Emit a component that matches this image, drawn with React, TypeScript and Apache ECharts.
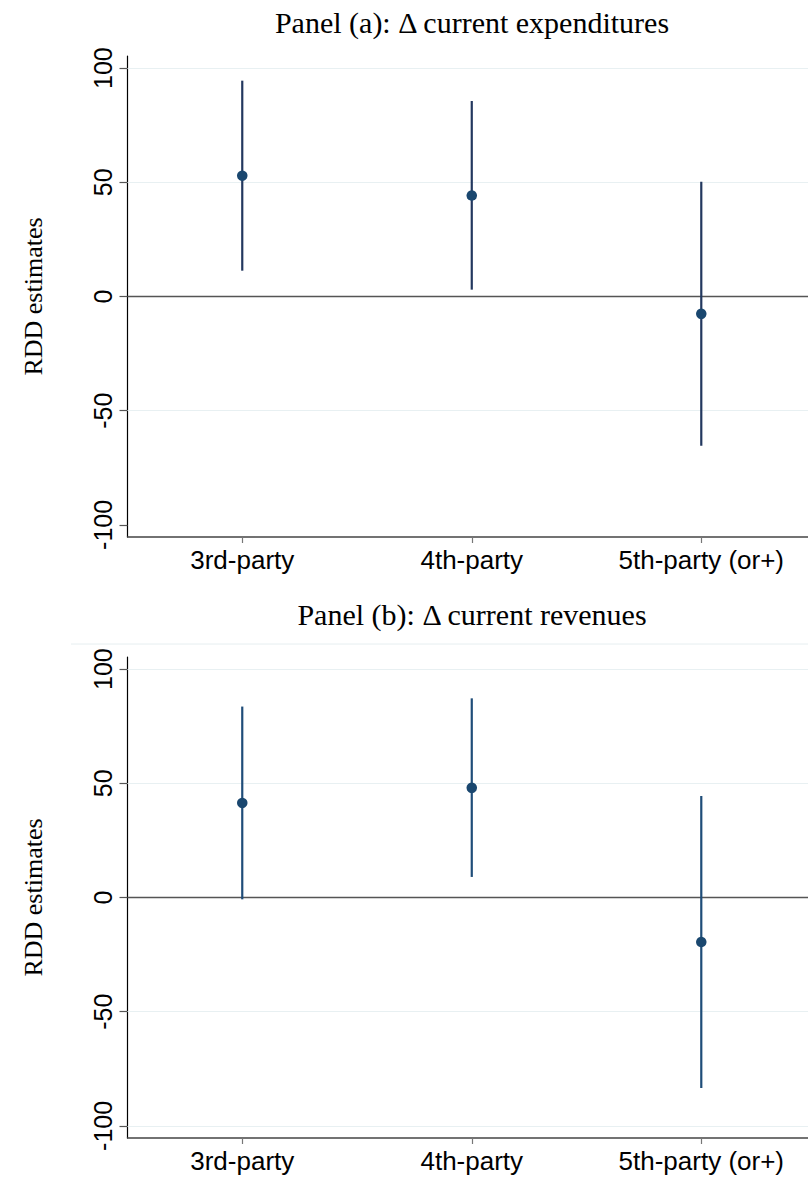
import React, { useEffect, useRef } from "react";
import * as echarts from "echarts";

// Categories and RDD point estimates with 95% confidence bounds
const categories = ["3rd-party", "4th-party", "5th-party (or+)"];
const categoryPositions = [1, 2, 3];

const expEstimates = [52.9, 44.2, -7.6];
const expLower = [11.3, 3.0, -65.3];
const expUpper = [94.5, 85.6, 50.2];

const revEstimates = [41.4, 48.0, -19.5];
const revLower = [-0.8, 9.0, -83.4];
const revUpper = [83.6, 87.2, 44.4];

const yTicks = [-100, -50, 0, 50, 100];
const gridValuesA = [-50, 50, 100];
const gridValuesB = [-100, -50, 50, 100];

const titles = ["Panel (a): Δ current expenditures", "Panel (b): Δ current revenues"];
const yAxisTitle = "RDD estimates";

const SANS = "'Liberation Sans', Arial, Helvetica, sans-serif";
const SERIF = "'Liberation Serif', 'Times New Roman', serif";
const MARKER = "#1a476f";

const panels = [
  { top: 56, height: 481, est: expEstimates, lo: expLower, hi: expUpper, bar: "#23385f", grid: gridValuesA },
  { top: 657, height: 481, est: revEstimates, lo: revLower, hi: revUpper, bar: "#1f4d79", grid: gridValuesB },
];

export default function App() {
  const ref = useRef<HTMLDivElement>(null);

  useEffect(() => {
    if (!ref.current) return;
    const chart = echarts.init(ref.current, null, { renderer: "svg" });

    const grids: any[] = [];
    const xAxes: any[] = [];
    const yAxes: any[] = [];
    const series: any[] = [];
    const graphics: any[] = [];

    panels.forEach((p, i) => {
      // the plotting area continues past the right edge of the figure
      grids.push({ left: 127.5, right: 0, top: p.top, height: p.height });
      xAxes.push({
        type: "value",
        gridIndex: i,
        min: 0.5,
        max: 3.465,
        axisLine: { show: true, onZero: false, lineStyle: { color: "#444", width: 1.5 } },
        axisTick: { show: true, length: 6, customValues: categoryPositions, lineStyle: { color: "#777", width: 1.2 } },
        axisLabel: {
          fontFamily: SANS,
          fontSize: 26,
          color: "#000",
          margin: 10,
          customValues: categoryPositions,
          formatter: (v: number) => categories[Math.round(v) - 1] ?? "",
        },
        splitLine: { show: false },
      });
      yAxes.push({
        type: "value",
        gridIndex: i,
        min: -105.3,
        max: 105.3,
        axisLine: { show: true, onZero: false, lineStyle: { color: "#000", width: 1.2 } },
        axisTick: { show: true, length: 8, customValues: yTicks, lineStyle: { color: "#555", width: 1.2 } },
        axisLabel: {
          fontFamily: SANS,
          fontSize: 25,
          color: "#000",
          rotate: 90,
          margin: 12,
          customValues: yTicks,
        },
        splitLine: { show: false },
      });

      // reference lines behind the estimates
      series.push({
        type: "scatter",
        xAxisIndex: i,
        yAxisIndex: i,
        data: [],
        z: 1,
        silent: true,
        markLine: {
          z: 1,
          silent: true,
          symbol: "none",
          label: { show: false },
          animation: false,
          data: [
            ...p.grid.map((v) => ({ yAxis: v, lineStyle: { color: "#e8f0f2", width: 1.2, type: "solid" } })),
            { yAxis: 0, lineStyle: { color: "#555", width: 1.4, type: "solid" } },
          ],
        },
      });

      // confidence intervals
      series.push({
        type: "custom",
        xAxisIndex: i,
        yAxisIndex: i,
        z: 3,
        data: categoryPositions.map((x, k) => [x, p.lo[k], p.hi[k]]),
        encode: { x: 0, y: [1, 2] },
        renderItem: (params: any, api: any) => {
          const x = api.value(0);
          const a = api.coord([x, api.value(1)]);
          const b = api.coord([x, api.value(2)]);
          return {
            type: "line",
            shape: { x1: a[0], y1: a[1], x2: b[0], y2: b[1] },
            style: { stroke: p.bar, lineWidth: 2.2 },
          };
        },
      });

      // point estimates
      series.push({
        type: "scatter",
        xAxisIndex: i,
        yAxisIndex: i,
        z: 4,
        symbol: "circle",
        symbolSize: 10.5,
        itemStyle: { color: MARKER, opacity: 1 },
        data: categoryPositions.map((x, k) => [x, p.est[k]]),
      });

      const cy = p.top + p.height / 2;
      graphics.push({
        type: "text",
        x: 33,
        y: cy,
        rotation: Math.PI / 2,
        style: {
          text: yAxisTitle,
          font: `26px ${SERIF}`,
          fill: "#000",
          align: "center",
          verticalAlign: "middle",
        },
      });
    });

    graphics.push(
      {
        type: "text",
        x: 472,
        y: 22,
        style: { text: titles[0], font: `30px ${SERIF}`, fill: "#000", align: "center", verticalAlign: "middle" },
      },
      {
        type: "text",
        x: 472,
        y: 614,
        style: { text: titles[1], font: `30px ${SERIF}`, fill: "#000", align: "center", verticalAlign: "middle" },
      },
      {
        type: "line",
        shape: { x1: 71, y1: 644, x2: 808, y2: 644 },
        style: { stroke: "#e6eef0", lineWidth: 1 },
      }
    );

    chart.setOption({
      animation: false,
      backgroundColor: "#fff",
      grid: grids,
      xAxis: xAxes,
      yAxis: yAxes,
      series,
      graphic: graphics,
    });

    return () => chart.dispose();
  }, []);

  return (
    <div
      ref={ref}
      style={{ position: "absolute", left: 0, top: 0, width: 808, height: 1180, background: "#fff" }}
    />
  );
}
